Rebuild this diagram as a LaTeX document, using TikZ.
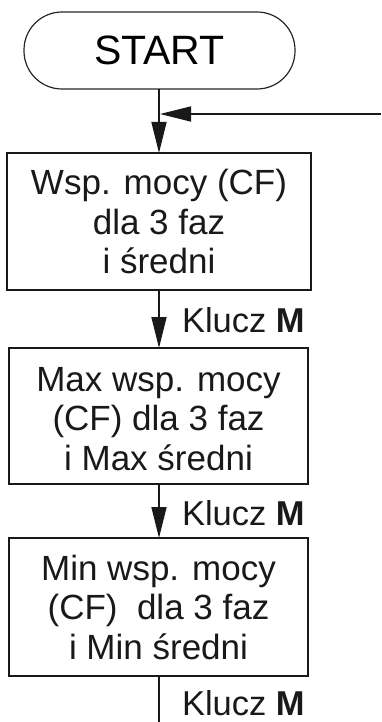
\documentclass[tikz,border=0pt]{standalone}
\usepackage{fontspec}
\setmainfont{Liberation Sans}
\usetikzlibrary{arrows.meta}
\begin{document}
\begin{tikzpicture}[x=1pt,y=1pt,
  every node/.style={inner sep=0pt, outer sep=0pt},
  box/.style={draw=black!90, line width=1.6pt, minimum width=300pt},
  txt/.style={font=\fontsize{35}{39.5}\selectfont, align=center, text=black!90},
  lab/.style={font=\fontsize{34.5}{39.5}\selectfont, anchor=base west, text=black!90},
  conn/.style={draw=black!90, line width=1.6pt},
  arr/.style={conn, -{Triangle[length=31pt,width=15pt]}}]
\useasboundingbox (0,0) rectangle (381,-722);
% START
\node[draw=black!85, line width=1.2pt, rounded corners=38pt, minimum width=271pt, minimum height=77pt,
  font=\fontsize{41}{46}\selectfont] (start) at (159.5,-50.5) {START};
% boxes
\node[box, minimum width=304pt, minimum height=137pt] (b1) at (159,-221.5) {};
\node[txt] (t1) at (159,-221.5) {Wsp. mocy (CF)\\dla 3 faz\\i średni};
\node[box, minimum width=299pt, minimum height=136pt] (b2) at (158.5,-416) {};
\node[txt] (t2) at (158.5,-419) {Max wsp. mocy\\(CF) dla 3 faz\\i Max średni};
\node[box, minimum width=299pt, minimum height=138pt] (b3) at (158.5,-607) {};
\node[txt] (t3) at (158.5,-607) {Min wsp. mocy\\(CF)\ \ dla 3 faz\\i Min średni};
% connectors
\coordinate (j) at (159,-114);
\coordinate (e) at (381,-114);
\coordinate (bot) at (159,-722);
\draw[conn] (start.south -| j) -- (j);
\draw[arr] (j) -- (b1.north -| j);
\draw[arr, shorten >=1pt] (e) -- (j);
\draw[arr] (b1.south -| j) -- (b2.north -| j);
\draw[arr] (b2.south -| j) -- (b3.north -| j);
\draw[conn] (b3.south -| j) -- (bot);
% labels
\node[lab] (k1) at (182,-332) {Klucz \textbf{M}};
\node[lab] (k2) at (182,-525) {Klucz \textbf{M}};
\node[lab] (k3) at (182,-715) {Klucz \textbf{M}};
\end{tikzpicture}
\end{document}
